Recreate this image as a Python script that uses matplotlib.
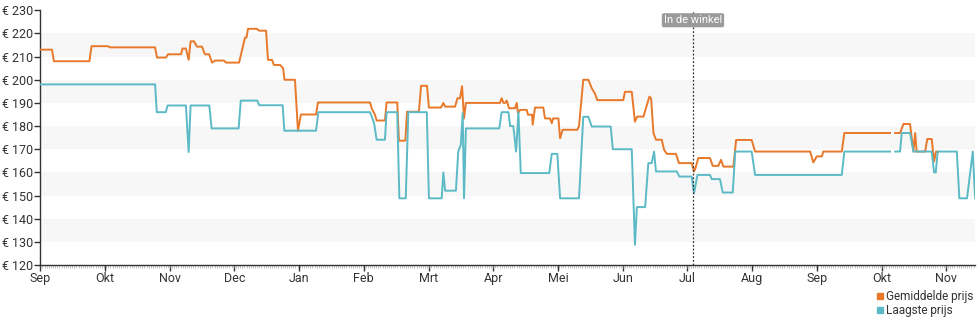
import numpy as np
import matplotlib.pyplot as plt
from matplotlib.lines import Line2D

plt.rcParams['font.family'] = ['Roboto', 'DejaVu Sans']

# dagen sinds 1 sep, prijzen in euro
dag_gem = [0, 5.5, 6.4, 23.1, 24.1, 31.8, 32.8, 54.0, 54.9, 59.1, 60.1, 66.2, 66.9, 68.5,
           69.8, 70.7, 72.3, 73.7, 76.1, 77.0, 77.5, 79.4, 80.8, 82.2, 86.4, 87.4, 93.5,
           96.3, 97.0, 97.7, 101.9, 102.9, 106.2, 107.1, 109.0, 109.9, 112.8, 114.2, 114.9,
           119.8, 121.2, 122.6, 129.7, 130.6, 155.1, 155.9, 157.4, 158.2, 162.1, 162.9,
           167.9, 168.7, 171.7, 172.5, 178.1, 179.1, 181.9, 182.8, 188.5, 189.6, 190.4,
           195.1, 196.2, 197.4, 198.4, 199.3, 200.2, 216.2, 217.0, 217.9, 218.6, 219.4,
           220.5, 223.3, 224.1, 224.7, 225.7, 228.8, 229.4, 231.3, 231.6, 232.7, 236.6,
           237.4, 239.8, 240.6, 241.2, 243.7, 244.5, 245.7, 252.6, 253.4, 255.4, 257.8,
           259.4, 260.9, 262.0, 274.2, 275.0, 278.2, 279.7, 280.8, 283.7, 286.5, 287.3,
           288.4, 289.6, 292.3, 293.4, 294.7, 299.0, 300.4, 306.4, 307.5, 308.2, 309.5,
           315.0, 316.3, 318.9, 320.2, 321.3, 326.0, 327.3, 334.6, 336.2, 362.1, 363.6,
           365.2, 367.6, 368.3, 377.0, 378.2, 399.7, 400.9, 402.1, 404.4, 406.0, 409.1,
           410.7, 411.5, 412.2, 416.2, 417.2, 419.3, 420.4, 421.3, 422.3]
prijs_gem = [213, 213, 208, 208, 214.5, 214.5, 214, 214, 209.6, 209.6, 211, 211, 213.5, 213.5,
             208.6, 216.6, 216.6, 214.3, 214.3, 212, 211, 211, 207.4, 208.3, 208.3, 207.4, 207.4,
             218.2, 218.2, 222, 222, 221.2, 221.2, 208.6, 208.6, 206.4, 206.4, 205, 200,
             200, 178, 185, 185, 190.2, 190.2, 187.6, 184.9, 182.4, 182.4, 190.2,
             190.2, 173.7, 173.7, 186.2, 186.2, 197.4, 197.4, 188, 188, 190, 188.4,
             188.4, 192, 192, 197.2, 183.3, 190, 190, 192, 190, 190, 191,
             187.7, 187.7, 190, 185.5, 187, 187, 184.9, 184.9, 180.6, 188, 188,
             183.3, 183.3, 181.2, 183.3, 183.3, 174.7, 178.4, 178.4, 180, 200, 200,
             196.3, 194, 191.2, 191.2, 194.8, 194.8, 181.9, 184.1, 184.1, 192.7, 192,
             177, 174.1, 174.1, 169.8, 168, 168, 164, 164, 160.4, 161.9, 166.2,
             166.2, 162.8, 162.8, 165.4, 162.5, 162.5, 174, 174, 169, 169, 164.3,
             166.9, 166.9, 169, 169, 177, 177, np.nan, 177, 177, 180.9, 180.9,
             169, 177, 169, 169, 174.4, 174.4, 164.7, 169, 169]

dag_laag = [0, 54.0, 54.8, 59.0, 59.9, 68.5, 69.8, 70.7, 79.5, 80.6, 93.3, 94.3, 102.1,
            103.0, 114.0, 114.8, 129.7, 130.8, 155.1, 155.9, 157.0, 158.2, 162.1, 162.9,
            167.9, 168.9, 171.9, 173.1, 181.8, 182.8, 188.8, 189.6, 190.4, 195.5, 196.6,
            197.8, 198.7, 199.3, 200.2, 215.9, 217.0, 220.2, 221.0, 222.5, 223.8, 224.9,
            226.0, 239.4, 240.6, 243.2, 244.5, 253.4, 255.4, 257.8, 259.4, 268.3, 269.3,
            278.2, 279.7, 280.6, 284.5, 286.0, 287.6, 288.7, 289.6, 299.4, 300.6, 306.4,
            307.5, 309.1, 315.0, 315.8, 319.7, 321.0, 325.7, 326.9, 334.6, 336.2, 377.0,
            378.2, 399.7, 400.9, 402.1, 404.4, 405.2, 409.1, 410.7, 419.3, 420.4, 421.2,
            422.1, 431.1, 432.3, 434.2, 435.9, 438.6, 439.7]
prijs_laag = [198, 198, 186, 186, 188.9, 188.9, 168.8, 188.9, 188.9, 179, 179, 191, 191,
              189, 189, 178, 178, 186, 186, 184.1, 181.3, 174.1, 174.1, 186,
              186, 148.8, 148.8, 186, 186, 148.8, 148.8, 160, 152.1, 152.1, 169,
              172, 185.6, 148.8, 179, 179, 186, 186, 180, 180, 169, 186,
              159.7, 159.7, 168, 168, 148.8, 148.8, 184, 184, 179.8, 179.8, 170,
              170, 128.7, 145, 145, 164, 164, 169, 160.4, 160.4, 158.2, 158.2,
              151, 158.9, 158.9, 157.1, 157.1, 151.3, 151.3, 169, 169, 158.9, 158.9,
              169, 169, np.nan, 169, 169, 177, 177, 169, 169, 160, 160,
              169, 169, 148.8, 148.8, 148.8, 169, 148.8]

maanden = ['Sep', 'Okt', 'Nov', 'Dec', 'Jan', 'Feb', 'Mrt', 'Apr', 'Mei', 'Jun',
           'Jul', 'Aug', 'Sep', 'Okt', 'Nov']
dag_winkel = 307.0

oranje = '#e8782a'
turkoois = '#5bbac5'

fig = plt.figure(figsize=(9.8, 3.25), dpi=100)
ax = fig.add_axes([0.0411, 0.1846, 0.9539, 0.7837])

for lo in range(130, 230, 20):
    ax.axhspan(lo, lo + 10, color='#f7f7f7', zorder=0, lw=0)

ax.plot(dag_gem, prijs_gem, color=oranje, lw=1.4, zorder=3)
ax.plot(dag_laag, prijs_laag, color=turkoois, lw=1.4, zorder=4)

ax.axvline(dag_winkel, color='#333333', lw=0.9, ls=(0, (1.5, 1.5)), zorder=5)
ax.text(dag_winkel, 225.7, 'In de winkel', ha='center', va='center', fontsize=8,
        color='white', zorder=6,
        bbox=dict(boxstyle='round,pad=0.12', fc='#9a9a9a', ec='#9a9a9a'))

ax.set_xlim(0, 439.7)
ax.set_ylim(120, 230)
ax.set_yticks(range(120, 231, 10))
ax.set_yticklabels(['€ %d' % v for v in range(120, 231, 10)])
ax.set_xticks(np.arange(len(maanden)) * 30.4375)
ax.set_xticklabels(maanden)
ax.set_xticks(np.arange(0, 440, 1.0), minor=True)

for s in ['top', 'right']:
    ax.spines[s].set_visible(False)
for s in ['left', 'bottom']:
    ax.spines[s].set_color('#333333')
    ax.spines[s].set_linewidth(1.0)

ax.tick_params(axis='both', which='major', labelsize=9, colors='#333333',
               length=4, width=1, pad=1)
ax.tick_params(axis='x', which='minor', length=2, width=0.4, color='#999999')

handles = [Line2D([], [], marker='s', ls='none', color=oranje, markersize=5),
           Line2D([], [], marker='s', ls='none', color=turkoois, markersize=5)]
fig.legend(handles, ['Gemiddelde prijs', 'Laagste prijs'], loc='upper left',
           bbox_to_anchor=(0.888, 0.125), frameon=False, fontsize=8.5,
           handlelength=0.6, handletextpad=0.2, labelspacing=0.05,
           borderpad=0, labelcolor='#333333')

fig.savefig('out.png', dpi=100)
